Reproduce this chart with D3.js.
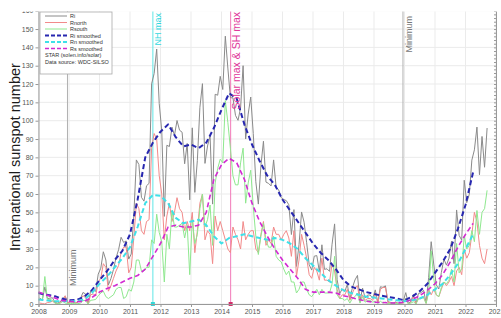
<!doctype html>
<html lang="en">
	<head>
		<meta charset="utf-8">
		<title>Sunspot cycle 24</title>
		<script src="https://d3js.org/d3.v7.min.js"></script>
		<style>
			body { margin: 0; background: #fff; }
			text { font-family: 'Liberation Sans', Arial, sans-serif; }
			.grid line { stroke: #ebebeb; stroke-width: 1px; }
			.axis text { fill: #555; font-size: 7px; }
			.axis path, .axis line { stroke: #999; }
		</style>
	</head>
	<body>
		<div id="chart"></div>
		<script>
			// monthly values, Jan 2008 onward
			let startYear = 2008
			let ri = [
				3.3, 2.1, 9.3, 2.9, 3.2, 3.4, 0.8, 0.5, 1.1, 2.9, 4.1, 0.8,
				1.2, 1.3, 0.6, 1.2, 2.9, 6.3, 5.5, 0.0, 7.1, 7.7, 6.9, 16.3,
				19.5, 28.5, 24.0, 10.4, 13.9, 18.8, 25.2, 29.6, 36.4, 33.6, 34.4, 24.5,
				27.3, 48.3, 78.6, 76.1, 58.2, 56.1, 64.5, 65.8, 120.1, 125.7, 139.1, 109.3,
				94.4, 47.8, 86.6, 85.9, 96.5, 92.0, 100.1, 94.8, 93.7, 76.5, 87.6, 56.8,
				96.1, 60.9, 78.3, 107.3, 120.2, 76.7, 86.2, 91.8, 54.5, 114.4, 113.9, 124.2,
				117.0, 146.1, 128.7, 112.5, 112.5, 102.9, 100.2, 106.9, 130.0, 90.0, 103.6, 112.9,
				93.0, 66.7, 54.5, 75.3, 88.8, 66.5, 65.8, 64.4, 78.6, 63.6, 62.2, 58.0,
				57.0, 56.4, 54.1, 37.9, 51.5, 20.5, 32.4, 50.2, 44.6, 33.4, 21.4, 18.5,
				26.1, 26.4, 17.7, 32.3, 18.9, 19.2, 17.8, 32.6, 43.7, 13.2, 5.7, 8.2,
				6.8, 10.7, 2.5, 8.9, 13.1, 15.6, 1.6, 8.7, 3.3, 4.9, 4.9, 3.1,
				7.7, 0.8, 9.4, 9.1, 9.9, 1.2, 0.9, 0.5, 1.1, 0.4, 0.5, 1.5,
				6.2, 0.2, 1.5, 5.2, 0.2, 5.8, 6.1, 7.5, 0.6, 14.4, 34.0, 21.8,
				10.4, 8.2, 17.2, 24.5, 21.2, 25.0, 34.3, 22.0, 51.3, 37.4, 34.8, 67.5,
				55.3, 59.9, 78.5, 84.1, 96.5, 70.5, 91.4, 74.6, 96.0
			]
			let rNorth = [
				0.5, 0.3, 0.0, 0.8, 1.0, 1.5, 0.5, 0.3, 0.8, 1.5, 4.5, 0.5,
				1.0, 1.0, 0.5, 1.0, 2.5, 4.5, 3.5, 0.0, 5.0, 5.5, 4.5, 12.0,
				14, 22, 20, 7, 10, 14, 18, 21, 28, 31, 31, 17,
				20, 36, 55, 52, 40, 38, 45, 46, 85, 93, 90, 70,
				60, 35, 48, 55, 45, 50, 58, 52, 50, 40, 45, 40,
				50, 28, 40, 55, 60, 35, 40, 38, 22, 48, 40, 45,
				40, 35, 30, 28, 42, 38, 35, 30, 45, 35, 38, 40,
				40, 30, 28, 38, 45, 32, 35, 33, 42, 38, 38, 35,
				38, 40, 36, 26, 40, 15, 24, 38, 32, 25, 16, 14,
				20, 18, 13, 25, 13, 13, 12, 22, 18, 8, 3, 5,
				5, 8, 2, 6, 9, 10, 1, 5, 2, 3, 3, 2,
				6, 0.5, 8, 9, 9, 1, 0.5, 0.3, 0.8, 0.2, 0.3, 0.5,
				3, 0.1, 1, 4, 0.1, 3, 3, 4, 0.3, 8, 5, 8,
				5, 4, 8, 12, 10, 12, 15, 10, 18, 20, 16, 30,
				25, 28, 38, 50, 45, 32, 25, 22, 30
			]
			let rSouth = [
				3.0, 2.0, 15.0, 2.5, 2.5, 2.0, 0.5, 0.2, 0.3, 1.5, 0.5, 0.3,
				0.2, 0.3, 0.1, 0.2, 0.5, 1.8, 2.0, 0.0, 2.0, 2.2, 2.5, 4.5,
				6, 7, 4, 3, 4, 5, 8, 9, 9, 3, 4, 8,
				7, 12, 24, 24, 18, 18, 20, 20, 35, 33, 49, 39,
				34, 12, 38, 30, 51, 42, 42, 43, 44, 36, 43, 16,
				46, 33, 38, 52, 60, 42, 46, 54, 32, 66, 74, 79,
				77, 111, 99, 85, 70, 65, 65, 77, 85, 55, 66, 73,
				53, 37, 27, 37, 44, 35, 31, 31, 37, 26, 24, 23,
				19, 16, 18, 12, 12, 6, 8, 12, 12, 8, 5, 4,
				6, 8, 5, 8, 6, 6, 6, 11, 26, 5, 3, 3,
				2, 3, 0.5, 3, 4, 6, 0.5, 4, 1, 2, 2, 1,
				1.5, 0.3, 1.5, 0.5, 1, 0.2, 0.4, 0.2, 0.3, 0.2, 0.2, 1,
				3, 0.1, 0.5, 1.2, 0.1, 2.8, 3, 3.5, 0.3, 6, 29, 14,
				5, 4, 9, 12, 11, 13, 19, 12, 33, 17, 19, 37,
				30, 32, 40, 34, 51, 38, 50, 52, 62
			]

			// smoothed values, quarterly from 2008.0
			let smoothStart = 2008
			let riSmooth = [
				6.0, 5.0, 4.5, 3.0, 2.0, 2.2, 4.0, 7.5,
				13, 18, 24, 29, 38, 57, 80, 88,
				94, 98, 91, 86, 87, 85, 88, 96,
				106, 115, 112, 98, 87, 78, 70, 65,
				57, 51, 45, 39, 33, 28, 24, 19,
				13, 9.5, 8, 6.5, 5.5, 4.5, 3.8, 3,
				2, 4, 7, 11, 17, 23, 30, 41,
				54, 72
			]
			let rnSmooth = [
				2.5, 2, 1.5, 1.5, 1.5, 1.5, 2.5, 6,
				11, 15, 20, 25, 31, 42, 55, 59.5,
				59, 55, 47, 44, 45, 46, 43, 37,
				33, 36, 37, 38, 37, 36, 35, 36,
				35, 33, 30, 25, 21, 17, 13, 10,
				7.5, 6, 5, 4, 3.5, 3, 2.5, 2,
				1.5, 2, 3, 5, 8, 11, 16, 22,
				30, 38
			]
			let rsSmooth = [
				6.5, 5, 3.5, 2, 1.5, 1.2, 1.5, 3.5,
				6.5, 8.5, 10, 12, 14, 15.5, 19, 26,
				33, 42, 43, 42, 42, 43, 50, 68,
				76, 79.5, 77, 68, 55, 45, 37, 30,
				24, 19, 14, 8, 6.5, 6.5, 6.5, 6,
				4.5, 3.5, 2.5, 1.5, 1, 0.8, 0.6, 0.5,
				1, 2.5, 4.5, 7.5, 11, 16, 23, 31,
				38, 44
			]

			let years = d3.range(2008, 2024)
			let yTicks = d3.range(0, 161, 10)
			let minima = [2008.95, 2019.95]
			let nhMax = 2011.75
			let solarMax = 2014.3

			let width = 501
			let height = 318

			let x = d3.scaleLinear().domain([2008, 2023]).range([38.5, 496])
			let y = d3.scaleLinear().domain([0, 160]).range([304, 10.7])

			let svg = d3.select('#chart')
				.append('svg')
				.attr('width', width)
				.attr('height', height)

			// grid
			let grid = svg.append('g').attr('class', 'grid')
			grid.selectAll('line.h')
				.data(yTicks)
				.enter().append('line')
				.attr('x1', x(2008)).attr('x2', x(2023))
				.attr('y1', d => y(d)).attr('y2', d => y(d))
			grid.selectAll('line.v')
				.data(years)
				.enter().append('line')
				.attr('x1', d => x(d)).attr('x2', d => x(d))
				.attr('y1', y(0)).attr('y2', y(160))

			// event markers
			svg.selectAll('line.min')
				.data(minima)
				.enter().append('line')
				.attr('x1', d => x(d)).attr('x2', d => x(d))
				.attr('y1', y(0)).attr('y2', y(160))
				.attr('stroke', '#b0b0b0')
			svg.append('line')
				.attr('x1', x(nhMax)).attr('x2', x(nhMax))
				.attr('y1', y(0)).attr('y2', y(160))
				.attr('stroke', '#5fe6e6')
			svg.append('line')
				.attr('x1', x(solarMax)).attr('x2', x(solarMax))
				.attr('y1', y(0)).attr('y2', y(160))
				.attr('stroke', '#f27ab8')

			let monthly = arr => arr.map((v, i) => [startYear + (i + 0.5) / 12, v])
			let quarterly = arr => arr.map((v, i) => [smoothStart + i * 0.25, v])
			let line = d3.line().x(d => x(d[0])).y(d => y(d[1]))

			let series = [
				{data: monthly(ri), color: '#8a8a8a', w: 1, dash: null},
				{data: monthly(rNorth), color: '#f28a8a', w: 1, dash: null},
				{data: monthly(rSouth), color: '#8fe88f', w: 1, dash: null},
				{data: quarterly(riSmooth), color: '#2727b0', w: 2, dash: '5,3'},
				{data: quarterly(rnSmooth), color: '#3fe0e8', w: 2, dash: '5,3'},
				{data: quarterly(rsSmooth), color: '#d22ad2', w: 1.6, dash: '5,3'},
			]
			svg.append('g')
				.selectAll('path')
				.data(series)
				.enter().append('path')
				.attr('d', d => line(d.data))
				.attr('fill', 'none')
				.attr('stroke', d => d.color)
				.attr('stroke-width', d => d.w)
				.attr('stroke-dasharray', d => d.dash)
				.attr('stroke-linejoin', 'round')

			// little markers at the bottom of max lines
			svg.append('rect')
				.attr('x', x(nhMax) - 2).attr('y', y(0) - 2).attr('width', 4).attr('height', 4)
				.attr('fill', '#30d8d8')
			svg.append('rect')
				.attr('x', x(solarMax) - 2).attr('y', y(0) - 2).attr('width', 4).attr('height', 4)
				.attr('fill', '#d0306a')

			// labels on event lines
			svg.append('text')
				.attr('transform', `translate(${x(minima[0]) + 9},${y(0) - 18}) rotate(-90)`)
				.attr('font-size', 9).attr('fill', '#777')
				.text('Minimum')
			svg.append('text')
				.attr('transform', `translate(${x(minima[1]) + 9},16) rotate(-90)`)
				.attr('text-anchor', 'end')
				.attr('font-size', 9).attr('fill', '#777')
				.text('Minimum')
			svg.append('text')
				.attr('transform', `translate(${x(nhMax) + 8},13) rotate(-90)`)
				.attr('text-anchor', 'end')
				.attr('font-size', 9).attr('fill', '#30d8e0')
				.text('NH max')
			svg.append('text')
				.attr('transform', `translate(${x(solarMax) + 9},12) rotate(-90)`)
				.attr('text-anchor', 'end')
				.attr('font-size', 10.5).attr('fill', '#e0389a')
				.text('Solar max & SH max')

			// axes
			svg.append('g')
				.attr('class', 'axis')
				.attr('transform', `translate(0,${y(0)})`)
				.call(d3.axisBottom(x).tickValues(years).tickFormat(d3.format('d')).tickSize(3).tickPadding(2))
			svg.append('g')
				.attr('class', 'axis')
				.attr('transform', `translate(${x(2008)},0)`)
				.call(d3.axisLeft(y).tickValues(yTicks).tickSize(3).tickPadding(2))
			svg.append('g')
				.attr('class', 'axis')
				.attr('transform', `translate(${x(2023)},0)`)
				.call(d3.axisLeft(y).tickValues(d3.range(0, 161, 2)).tickSize(2).tickFormat(''))

			// the picture is cropped at the top
			svg.append('rect').attr('x', 0).attr('y', 0).attr('width', width).attr('height', 11.5).attr('fill', '#fff')

			svg.append('text')
				.attr('transform', `translate(20,157) rotate(-90)`)
				.attr('text-anchor', 'middle')
				.attr('font-size', 14.5).attr('fill', '#1a1a1a')
				.text('International sunspot number')

			// legend
			let legend = svg.append('g').attr('transform', 'translate(40,12)')
			legend.append('rect')
				.attr('width', 72).attr('height', 62)
				.attr('fill', '#fff').attr('stroke', '#aaa').attr('stroke-width', 0.8)
			let names = ['Ri', 'Rnorth', 'Rsouth', 'Ri smoothed', 'Rn smoothed', 'Rs smoothed']
			let rows = legend.selectAll('g.row')
				.data(series)
				.enter().append('g')
				.attr('transform', (d, i) => `translate(0,${4 + i * 6.5})`)
			rows.append('line')
				.attr('x1', 5).attr('x2', 27)
				.attr('stroke', d => d.color)
				.attr('stroke-width', d => d.w)
				.attr('stroke-dasharray', d => d.dash ? '4,2' : null)
			rows.append('text')
				.attr('x', 30).attr('dy', 2)
				.attr('font-size', 5.5).attr('fill', '#333')
				.text((d, i) => names[i])
			legend.append('text')
				.attr('x', 5).attr('y', 44.5)
				.attr('font-size', 5.5).attr('fill', '#333')
				.text('STAR (solen.info/solar)')
			legend.append('text')
				.attr('x', 5).attr('y', 51.5)
				.attr('font-size', 5.5).attr('fill', '#333')
				.text('Data source: WDC-SILSO')
		</script>
	</body>
</html>
